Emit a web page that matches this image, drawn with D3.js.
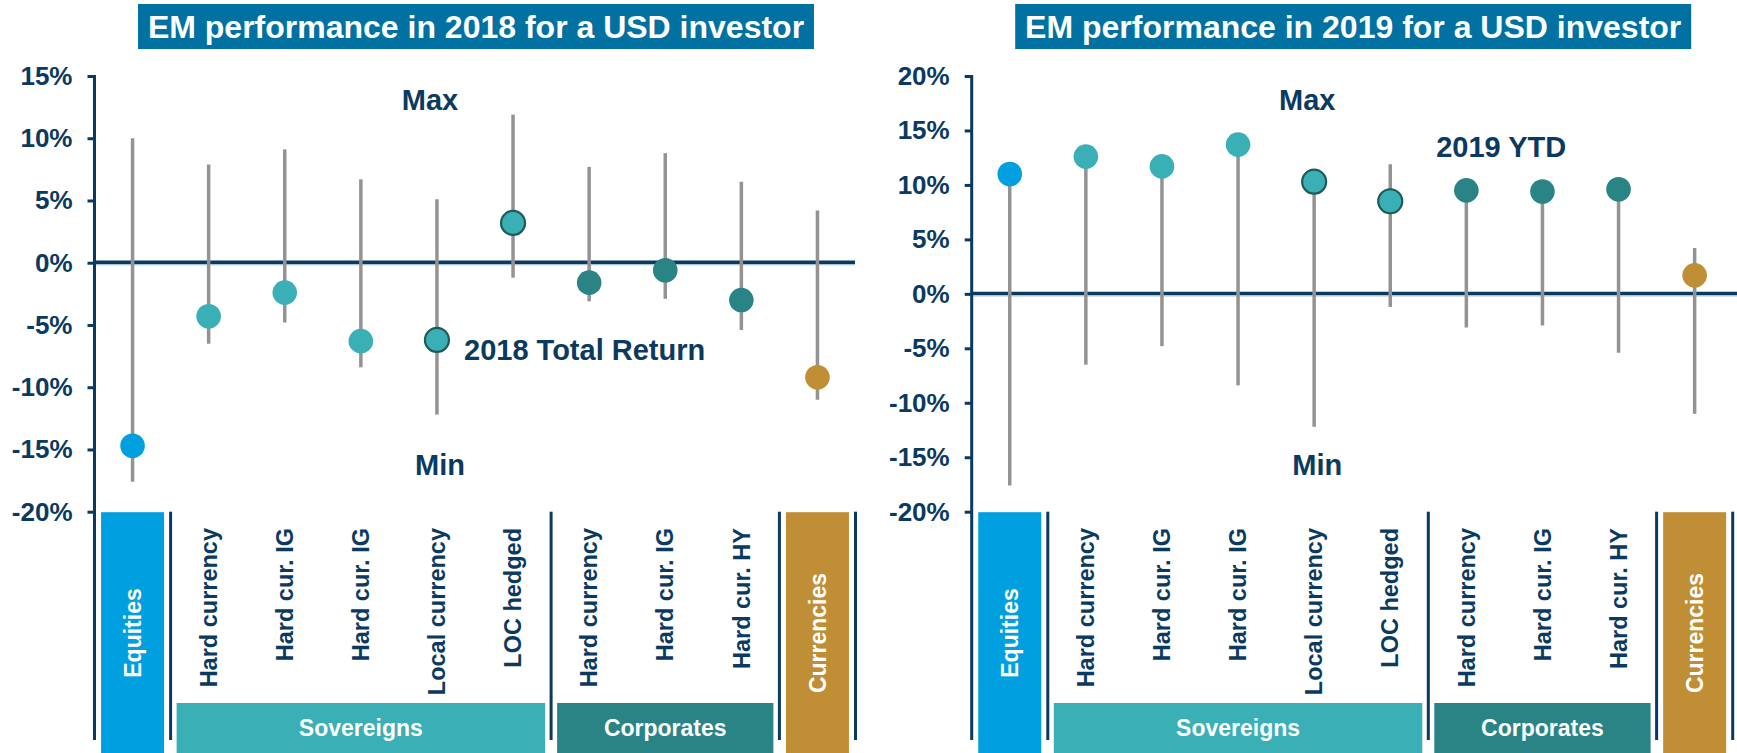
<!DOCTYPE html>
<html>
<head>
    <meta charset="utf-8" />
    <title>EM performance for a USD investor</title>
    <script src="https://d3js.org/d3.v7.min.js"></script>
    <style>
    body { margin: 0; background: white; }
    svg text { font-family: "Liberation Sans", Arial, sans-serif; font-weight: bold; }
    </style>
</head>
<body>
<div id="chart"></div>
<script>
    // categories and groups (same for both years)
    var categories = ["Equities", "Hard currency", "Hard cur. IG", "Hard cur. IG", "Local currency",
                      "LOC hedged", "Hard currency", "Hard cur. IG", "Hard cur. HY", "Currencies"];
    var groupOf = ["Equities", "Sovereigns", "Sovereigns", "Sovereigns", "Sovereigns",
                   "Sovereigns", "Corporates", "Corporates", "Corporates", "Currencies"];
    var outlined = [false, false, false, false, true, true, false, false, false, false];

    // historical range (%)
    var rangeMin = [-17.6, -6.5, -4.8, -8.4, -12.2, -1.2, -3.1, -2.9, -5.4, -11.0];
    var rangeMax2018 = [10.0, 7.9, 9.1, 6.7, 5.1, 11.9, 7.7, 8.8, 6.5, 4.2];
    var rangeMax2019 = [11.0, 12.6, 11.7, 13.7, 10.3, 11.9, 9.5, 9.4, 9.6, 4.2];

    // returns (%)
    var ret2018 = [-14.7, -4.3, -2.4, -6.3, -6.2, 3.2, -1.6, -0.6, -3.0, -9.2];
    var ret2019 = [11.0, 12.6, 11.7, 13.7, 10.3, 8.5, 9.5, 9.4, 9.6, 1.7];

    var ticks2018 = [15, 10, 5, 0, -5, -10, -15, -20];
    var ticks2019 = [20, 15, 10, 5, 0, -5, -10, -15, -20];

    var groupColors = {
        "Equities": "#009fe0",
        "Sovereigns": "#3aafb5",
        "Corporates": "#2a8385",
        "Currencies": "#c08f35"
    };
    var navy = "#0b3a60";

    var W = 1737, H = 753;
    var plotTop = 76, plotBottom = 511.7, stepW = 76.1;

    var svg = d3.select("#chart").append("svg")
        .attr("width", W)
        .attr("height", H);

    var panels = [
        {title: "EM performance in 2018 for a USD investor", axisX: 94.5, domain: [-20, 15],
         ticks: ticks2018, values: ret2018, maxes: rangeMax2018, lineEnd: 855,
         note: "2018 Total Return", noteX: 369.5, noteY: 360, noteAnchor: "start"},
        {title: "EM performance in 2019 for a USD investor", axisX: 971.7, domain: [-20, 20],
         ticks: ticks2019, values: ret2019, maxes: rangeMax2019, lineEnd: W,
         note: "2019 YTD", noteX: 529.5, noteY: 157, noteAnchor: "middle"}
    ];

    panels.forEach(function(p) {
        var g = svg.append("g");
        var idx = d3.range(categories.length);

        var x = d3.scaleBand()
            .domain(idx)
            .range([p.axisX, p.axisX + stepW * categories.length]);
        var y = d3.scaleLinear()
            .domain(p.domain)
            .range([plotBottom, plotTop]);
        var cx = function(i) { return x(i) + x.bandwidth() / 2; };

        // title box
        g.append("rect")
            .attr("x", p.axisX + 43.5)
            .attr("y", 4)
            .attr("width", 676)
            .attr("height", 45)
            .style("fill", "#0071a1");
        g.append("text")
            .attr("x", p.axisX + 43.5 + 338)
            .attr("y", 37.5)
            .style("text-anchor", "middle")
            .style("font-size", "32px")
            .style("fill", "white")
            .text(p.title);

        // zero line
        g.append("line")
            .attr("x1", p.axisX).attr("x2", p.lineEnd)
            .attr("y1", y(0) + 1.8).attr("y2", y(0) + 1.8)
            .style("stroke", "#a9c4d8").style("stroke-width", 1.5);
        g.append("line")
            .attr("x1", p.axisX).attr("x2", p.lineEnd)
            .attr("y1", y(0) - 0.5).attr("y2", y(0) - 0.5)
            .style("stroke", navy).style("stroke-width", 3.4);

        // y axis
        var yAxis = d3.axisLeft(y)
            .tickValues(p.ticks)
            .tickSize(7)
            .tickPadding(15)
            .tickFormat(function(d) { return d + "%"; });
        var ax = g.append("g")
            .attr("transform", "translate(" + p.axisX + ",0)")
            .call(yAxis);
        ax.select(".domain").remove();
        ax.selectAll(".tick line")
            .style("stroke", navy).style("stroke-width", 3);
        ax.selectAll(".tick text")
            .style("fill", navy)
            .style("font-size", "26px")
            .style("font-family", "\"Liberation Sans\", Arial, sans-serif")
            .style("font-weight", "bold");
        g.append("line")
            .attr("x1", p.axisX).attr("x2", p.axisX)
            .attr("y1", plotTop - 1).attr("y2", 740)
            .style("stroke", navy).style("stroke-width", 3);

        // whiskers
        g.selectAll(".whisker")
            .data(idx)
            .enter().append("line")
            .attr("class", "whisker")
            .attr("x1", cx).attr("x2", cx)
            .attr("y1", function(i) { return y(rangeMin[i]); })
            .attr("y2", function(i) { return y(p.maxes[i]); })
            .style("stroke", "#939393")
            .style("stroke-width", 3.5);

        // points
        g.selectAll(".pt")
            .data(idx)
            .enter().append("circle")
            .attr("class", "pt")
            .attr("cx", cx)
            .attr("cy", function(i) { return y(p.values[i]); })
            .attr("r", function(i) { return outlined[i] ? 12 : 12.3; })
            .style("fill", function(i) { return groupColors[groupOf[i]]; })
            .style("stroke", function(i) { return outlined[i] ? "#1d5b58" : "none"; })
            .style("stroke-width", 2.2);

        // annotations
        g.append("text")
            .attr("x", p.axisX + 335.5).attr("y", 110)
            .style("text-anchor", "middle").style("font-size", "29px").style("fill", navy)
            .text("Max");
        g.append("text")
            .attr("x", p.axisX + 345.5).attr("y", 475)
            .style("text-anchor", "middle").style("font-size", "29px").style("fill", navy)
            .text("Min");
        g.append("text")
            .attr("x", p.axisX + p.noteX).attr("y", p.noteY)
            .style("text-anchor", p.noteAnchor).style("font-size", "29px").style("fill", navy)
            .text(p.note);

        // group blocks below the plot
        var groups = [];
        idx.forEach(function(i) {
            var last = groups[groups.length - 1];
            if (last && last.name == groupOf[i]) last.end = i;
            else groups.push({name: groupOf[i], start: i, end: i});
        });

        groups.forEach(function(gr) {
            var x0 = x(gr.start), x1 = x(gr.end) + x.bandwidth();
            var single = gr.start == gr.end;
            if (single) {
                g.append("rect")
                    .attr("x", cx(gr.start) - 31.5).attr("y", plotBottom + 0.5)
                    .attr("width", 63).attr("height", H - plotBottom)
                    .style("fill", groupColors[gr.name]);
                g.append("text")
                    .attr("transform", "translate(" + cx(gr.start) + ",633) rotate(-90)")
                    .attr("dy", "0.35em")
                    .style("text-anchor", "middle").style("font-size", "23px").style("fill", "white")
                    .text(gr.name);
            } else {
                g.append("rect")
                    .attr("x", x0 + 6).attr("y", 703)
                    .attr("width", x1 - x0 - 12).attr("height", H - 703)
                    .style("fill", groupColors[gr.name]);
                g.append("text")
                    .attr("x", (x0 + x1) / 2).attr("y", 728)
                    .attr("dy", "0.35em")
                    .style("text-anchor", "middle").style("font-size", "23px").style("fill", "white")
                    .text(gr.name);
            }
            // separator on the right of each group
            g.append("line")
                .attr("x1", x1).attr("x2", x1)
                .attr("y1", plotBottom).attr("y2", 740)
                .style("stroke", navy).style("stroke-width", 3);
        });

        // rotated category labels for the bond groups
        g.selectAll(".cat")
            .data(idx.filter(function(i) { return groupOf[i] == "Sovereigns" || groupOf[i] == "Corporates"; }))
            .enter().append("text")
            .attr("class", "cat")
            .attr("transform", function(i) { return "translate(" + cx(i) + ",528) rotate(-90)"; })
            .attr("dy", "0.35em")
            .style("text-anchor", "end")
            .style("font-size", "23.5px")
            .style("fill", navy)
            .text(function(i) { return categories[i]; });
    });
</script>
</body>
</html>
